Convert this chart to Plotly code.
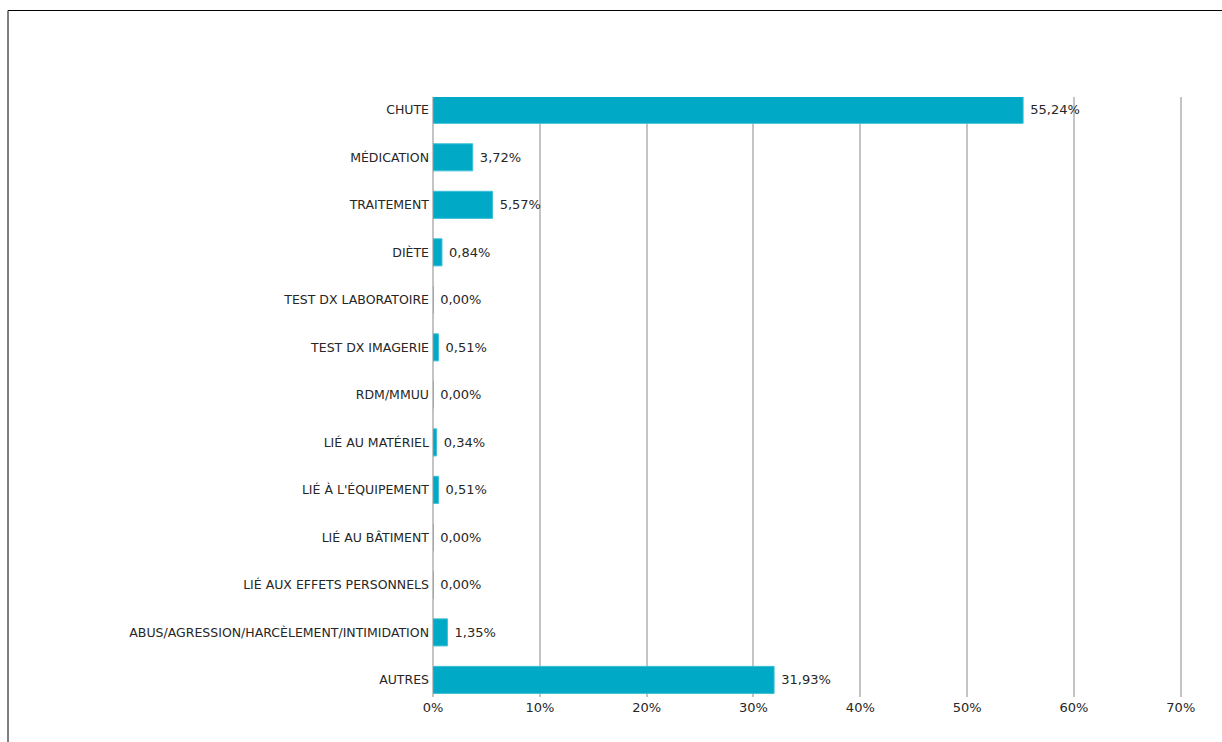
import plotly.graph_objects as go

# Incident categories and their share of reported events (%)
categories = [
    "CHUTE",
    "MÉDICATION",
    "TRAITEMENT",
    "DIÈTE",
    "TEST DX LABORATOIRE",
    "TEST DX IMAGERIE",
    "RDM/MMUU",
    "LIÉ AU MATÉRIEL",
    "LIÉ À L'ÉQUIPEMENT",
    "LIÉ AU BÂTIMENT",
    "LIÉ AUX EFFETS PERSONNELS",
    "ABUS/AGRESSION/HARCÈLEMENT/INTIMIDATION",
    "AUTRES",
]
values = [55.24, 3.72, 5.57, 0.84, 0.00, 0.51, 0.00, 0.34, 0.51, 0.00, 0.00, 1.35, 31.93]

x_ticks = [0, 10, 20, 30, 40, 50, 60, 70]
x_tick_labels = [f"{v}%" for v in x_ticks]

# French-style decimal comma for the value labels (leading no-break space
# keeps a little air between bar end and label)
value_labels = ["\u00a0" + f"{v:.2f}%".replace(".", ",") for v in values]

W, H = 1222, 742
L, R, T, B = 433, 38, 97, 45
X_MAX = 70.3  # a touch past 70% so the last gridline is drawn
FONT = "'DejaVu Sans', Verdana, sans-serif"
TEXT_COLOR = "#262626"

fig = go.Figure(
    go.Bar(
        y=categories,
        x=values,
        orientation="h",
        width=0.57,
        marker=dict(color="#00A9C6", line=dict(color="#3FC0D6", width=1)),
        text=value_labels,
        textposition="outside",
        textfont=dict(family=FONT, size=13, color=TEXT_COLOR),
        cliponaxis=False,
        hoverinfo="skip",
    )
)

n = len(categories)
fig.update_layout(
    width=W,
    height=H,
    margin=dict(l=L, r=R, t=T, b=B, pad=0),
    paper_bgcolor="white",
    plot_bgcolor="white",
    showlegend=False,
    font=dict(family=FONT, size=12.5, color=TEXT_COLOR),
    xaxis=dict(
        range=[0, X_MAX],
        tickvals=x_ticks,
        ticktext=x_tick_labels,
        showgrid=True,
        gridcolor="#C4C4C4",
        gridwidth=1.5,
        zeroline=True,
        zerolinecolor="#C4C4C4",
        zerolinewidth=1.5,
        showline=False,
        ticks="",
        ticklabelstandoff=1,
        tickfont=dict(family=FONT, size=13, color=TEXT_COLOR),
        fixedrange=True,
    ),
    yaxis=dict(
        type="category",
        categoryorder="array",
        categoryarray=categories,
        range=[n - 1 + 0.36, -0.27],
        showgrid=False,
        zeroline=False,
        showline=False,
        ticks="",
        ticklabelstandoff=3,
        tickfont=dict(family=FONT, size=12.5, color=TEXT_COLOR),
        fixedrange=True,
    ),
    shapes=[
        # outer frame around the chart
        dict(
            type="rect",
            xref="paper",
            yref="paper",
            x0=(8 - L) / (W - L - R),
            x1=(W + 5 - L) / (W - L - R),
            y0=-(B + 5) / (H - T - B),
            y1=1 + (T - 10.5) / (H - T - B),
            line=dict(color="#000000", width=1),
            fillcolor="rgba(0,0,0,0)",
            layer="above",
        )
    ],
)

fig.write_html("out.html")
